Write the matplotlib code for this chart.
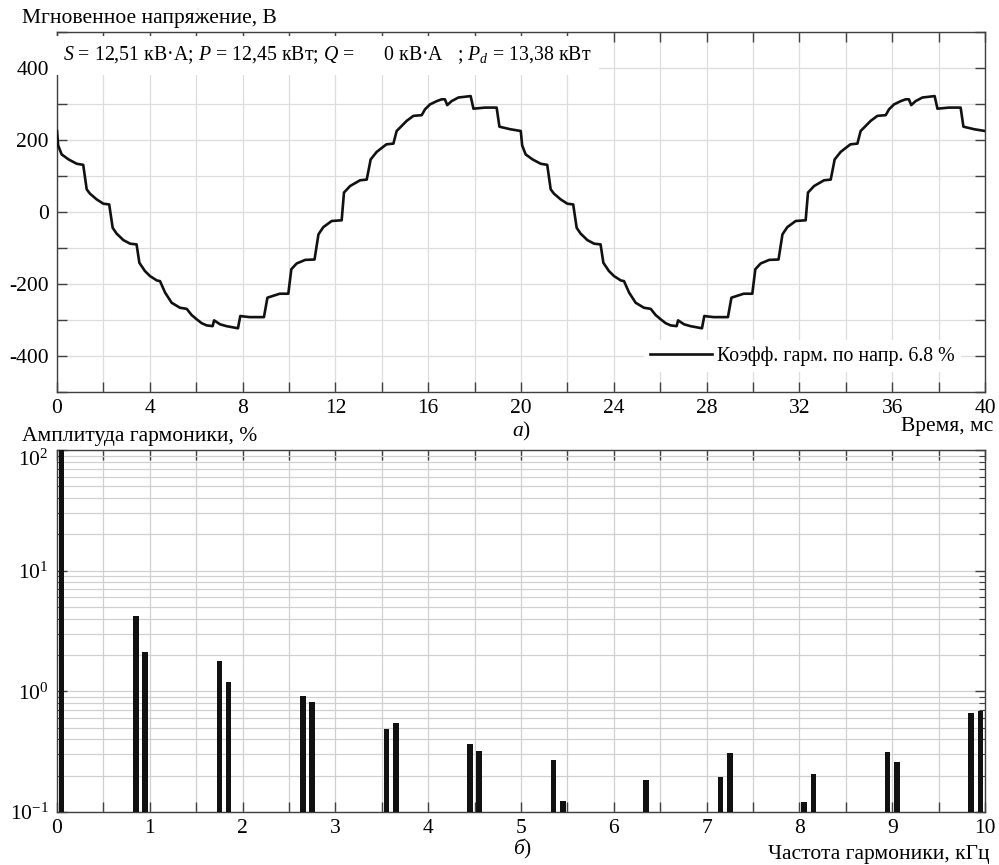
import matplotlib
matplotlib.use("Agg")
import matplotlib.pyplot as plt
import matplotlib.ticker as mticker
import numpy as np

plt.rcParams['font.family'] = ['Liberation Serif', 'DejaVu Serif']
plt.rcParams['mathtext.fontset'] = 'custom'
plt.rcParams['mathtext.rm'] = 'Liberation Serif'
plt.rcParams['mathtext.it'] = 'Liberation Serif:italic'
plt.rcParams['font.size'] = 15.5

# ---------------- data: instantaneous voltage -------------
time_ms = [
    0.00, 0.05, 0.20, 0.50, 0.85, 1.13, 1.28, 1.42, 1.71, 2.00, 2.25, 2.40, 2.57, 2.86, 3.15, 3.43,
    3.55, 3.79, 4.01, 4.30, 4.44, 4.66, 4.94, 5.30, 5.59, 5.80, 6.02, 6.24, 6.45, 6.71, 6.77, 7.03,
    7.30, 7.80, 7.90, 8.30, 8.92, 9.07, 9.60, 9.97, 10.10, 10.33, 10.70, 11.10, 11.27, 11.48, 11.84,
    12.27, 12.37, 12.63, 13.06, 13.35, 13.52, 13.78, 14.20, 14.50, 14.64, 14.78, 15.07, 15.36, 15.72,
    15.86, 16.08, 16.37, 16.58, 16.72, 16.82, 17.01, 17.30, 17.83, 17.95, 18.45, 18.95, 19.07, 19.53,
    19.99,
    20.05, 20.20, 20.50, 20.85, 21.13, 21.28, 21.42, 21.71, 22.00, 22.25, 22.40, 22.57, 22.86, 23.15,
    23.43, 23.55, 23.79, 24.01, 24.30, 24.44, 24.66, 24.94, 25.30, 25.59, 25.80, 26.02, 26.24, 26.45,
    26.71, 26.77, 27.03, 27.30, 27.80, 27.90, 28.30, 28.92, 29.07, 29.60, 29.97, 30.10, 30.33, 30.70,
    31.10, 31.27, 31.48, 31.84, 32.27, 32.37, 32.63, 33.06, 33.35, 33.52, 33.78, 34.20, 34.50, 34.64,
    34.78, 35.07, 35.36, 35.72, 35.86, 36.08, 36.37, 36.58, 36.72, 36.82, 37.01, 37.30, 37.83, 37.95,
    38.45, 38.95, 39.07, 39.53, 40.00,
]
voltage_v = [
    225, 185, 160, 146, 134, 131, 63, 51, 35, 23, 21, -44, -60, -78, -88, -90,
    -141, -164, -178, -190, -192, -224, -252, -266, -269, -286, -298, -309, -315, -317, -301, -312,
    -317, -323, -289, -292, -292, -238, -227, -227, -159, -143, -133, -132, -62, -42, -25,
    -23, 54, 72, 88, 90, 146, 167, 188, 190, 225, 234, 253, 267, 269,
    285, 299, 308, 313, 313, 297, 308, 318, 322, 287, 290, 290, 237, 230,
    225,
    185, 160, 146, 134, 131, 63, 51, 35, 23, 21, -44, -60, -78, -88,
    -90, -141, -164, -178, -190, -192, -224, -252, -266, -269, -286, -298, -309, -315,
    -317, -301, -312, -317, -323, -289, -292, -292, -238, -227, -227, -159, -143, -133,
    -132, -62, -42, -25, -23, 54, 72, 88, 90, 146, 167, 188, 190, 225,
    234, 253, 267, 269, 285, 299, 308, 313, 313, 297, 308, 318, 322, 287,
    290, 290, 237, 230, 225,
]

# ---------------- data: harmonic spectrum -------------
harm_freq_khz = [0.05, 0.85, 0.95, 1.75, 1.85, 2.65, 2.75, 3.55, 3.65, 4.45, 4.55,
                 5.35, 5.45, 6.35, 7.15, 7.25, 8.05, 8.15, 8.95, 9.05, 9.85, 9.95]
harm_ampl_pct = [100, 4.23, 2.13, 1.79, 1.20, 0.92, 0.81, 0.49, 0.55, 0.366, 0.322,
                 0.271, 0.122, 0.182, 0.194, 0.308, 0.120, 0.204, 0.314, 0.258, 0.657, 0.69]

info_text = r"$S$ = 12,51 кВ·А; $P$ = 12,45 кВт; $Q$ =      0 кВ·А   ; $P_d$ = 13,38 кВт"
legend_label = "Коэфф. гарм. по напр. 6.8 %"

W, H = 999, 865
fig = plt.figure(figsize=(W / 100, H / 100), dpi=100)

def fx(px):
    return px / W

def fy(py):
    return 1 - py / H

grid_c = '#dddddd'
spine_c = '#404040'

# ---------------- top axes -------------
ax1 = fig.add_axes([fx(57), fy(392), fx(985) - fx(57), fy(32) - fy(392)])
ax1.plot(time_ms, voltage_v, color='#111111', lw=1.9, label=legend_label, zorder=3)
ax1.set_xlim(0, 40)
ax1.set_ylim(-500, 500)
ax1.xaxis.set_major_locator(mticker.MultipleLocator(2))
ax1.yaxis.set_major_locator(mticker.MultipleLocator(100))
ax1.xaxis.set_major_formatter(mticker.FuncFormatter(lambda v, p: f"{int(round(v))}" if round(v) % 4 == 0 else ""))
ax1.yaxis.set_major_formatter(mticker.FuncFormatter(lambda v, p: f"{int(round(v))}" if round(v) % 200 == 0 and abs(v) < 500 else ""))
ax1.grid(True, color=grid_c, lw=0.9)
ax1.tick_params(direction='in', length=7, width=1, top=True, right=True, color=spine_c,
                labelsize=15.5)
ax1.tick_params(axis='x', pad=5)
ax1.tick_params(axis='y', pad=6)
for s in ax1.spines.values():
    s.set_color(spine_c)
    s.set_linewidth(1.0)
ax1.text(0.006, 0.965, info_text, transform=ax1.transAxes, ha='left', va='top', fontsize=14.3,
         bbox=dict(facecolor='white', edgecolor='none', pad=6), zorder=4)
leg = ax1.legend(loc='center right', bbox_to_anchor=(0.974, 0.1), borderaxespad=0, frameon=True,
                 fontsize=14.3, handlelength=3.15, handletextpad=0.25, borderpad=0.3, fancybox=False)
leg.get_frame().set_edgecolor('none')
leg.get_frame().set_facecolor('white')
leg.get_frame().set_alpha(1)

fig.text(fx(22), fy(18), "Мгновенное напряжение, В", ha='left', va='center', fontsize=15.5)
fig.text(fx(993), fy(427), "Время, мс", ha='right', va='center', fontsize=15.5)
fig.text(fx(521), fy(431), r"$a$)", ha='center', va='center', fontsize=15.5)

# ---------------- bottom axes -------------
ax2 = fig.add_axes([fx(57), fy(812), fx(985) - fx(57), fy(450) - fy(812)])
ax2.bar(harm_freq_khz, harm_ampl_pct, width=0.06, color='#111111', bottom=0.001, zorder=3)
ax2.set_yscale('log')
ax2.set_xlim(0, 10)
ax2.set_ylim(0.1, 100)
ax2.xaxis.set_major_locator(mticker.MultipleLocator(0.5))
ax2.xaxis.set_major_formatter(mticker.FuncFormatter(lambda v, p: f"{int(round(v))}" if abs(v - round(v)) < 1e-6 else ""))
ax2.yaxis.set_major_locator(mticker.LogLocator(base=10, numticks=10))
ax2.yaxis.set_minor_locator(mticker.LogLocator(base=10, subs=np.arange(2, 10), numticks=10))
ax2.yaxis.set_minor_formatter(mticker.NullFormatter())
ax2.grid(True, which='major', color='#d0d0d0', lw=0.9)
ax2.grid(True, which='minor', axis='y', color='#d0d0d0', lw=0.9)
ax2.tick_params(which='both', direction='in', top=True, right=True, color=spine_c, labelsize=15.5)
ax2.tick_params(axis='x', which='both', pad=5)
ax2.tick_params(axis='y', which='both', pad=6)
ax2.tick_params(which='major', length=7, width=1)
ax2.tick_params(which='minor', length=4, width=0.8)
for s in ax2.spines.values():
    s.set_color(spine_c)
    s.set_linewidth(1.0)

fig.text(fx(22), fy(437), "Амплитуда гармоники, %", ha='left', va='center', fontsize=15.5)
fig.text(fx(523), fy(849), r"$б$)", ha='center', va='center', fontsize=15.5)
fig.text(fx(990), fy(854), "Частота гармоники, кГц", ha='right', va='center', fontsize=15.5)

fig.canvas.draw()
for lab in ax2.get_yticklabels():
    if '{2}' in lab.get_text():
        lab.set_va('top')

fig.savefig("out.png", dpi=100)
